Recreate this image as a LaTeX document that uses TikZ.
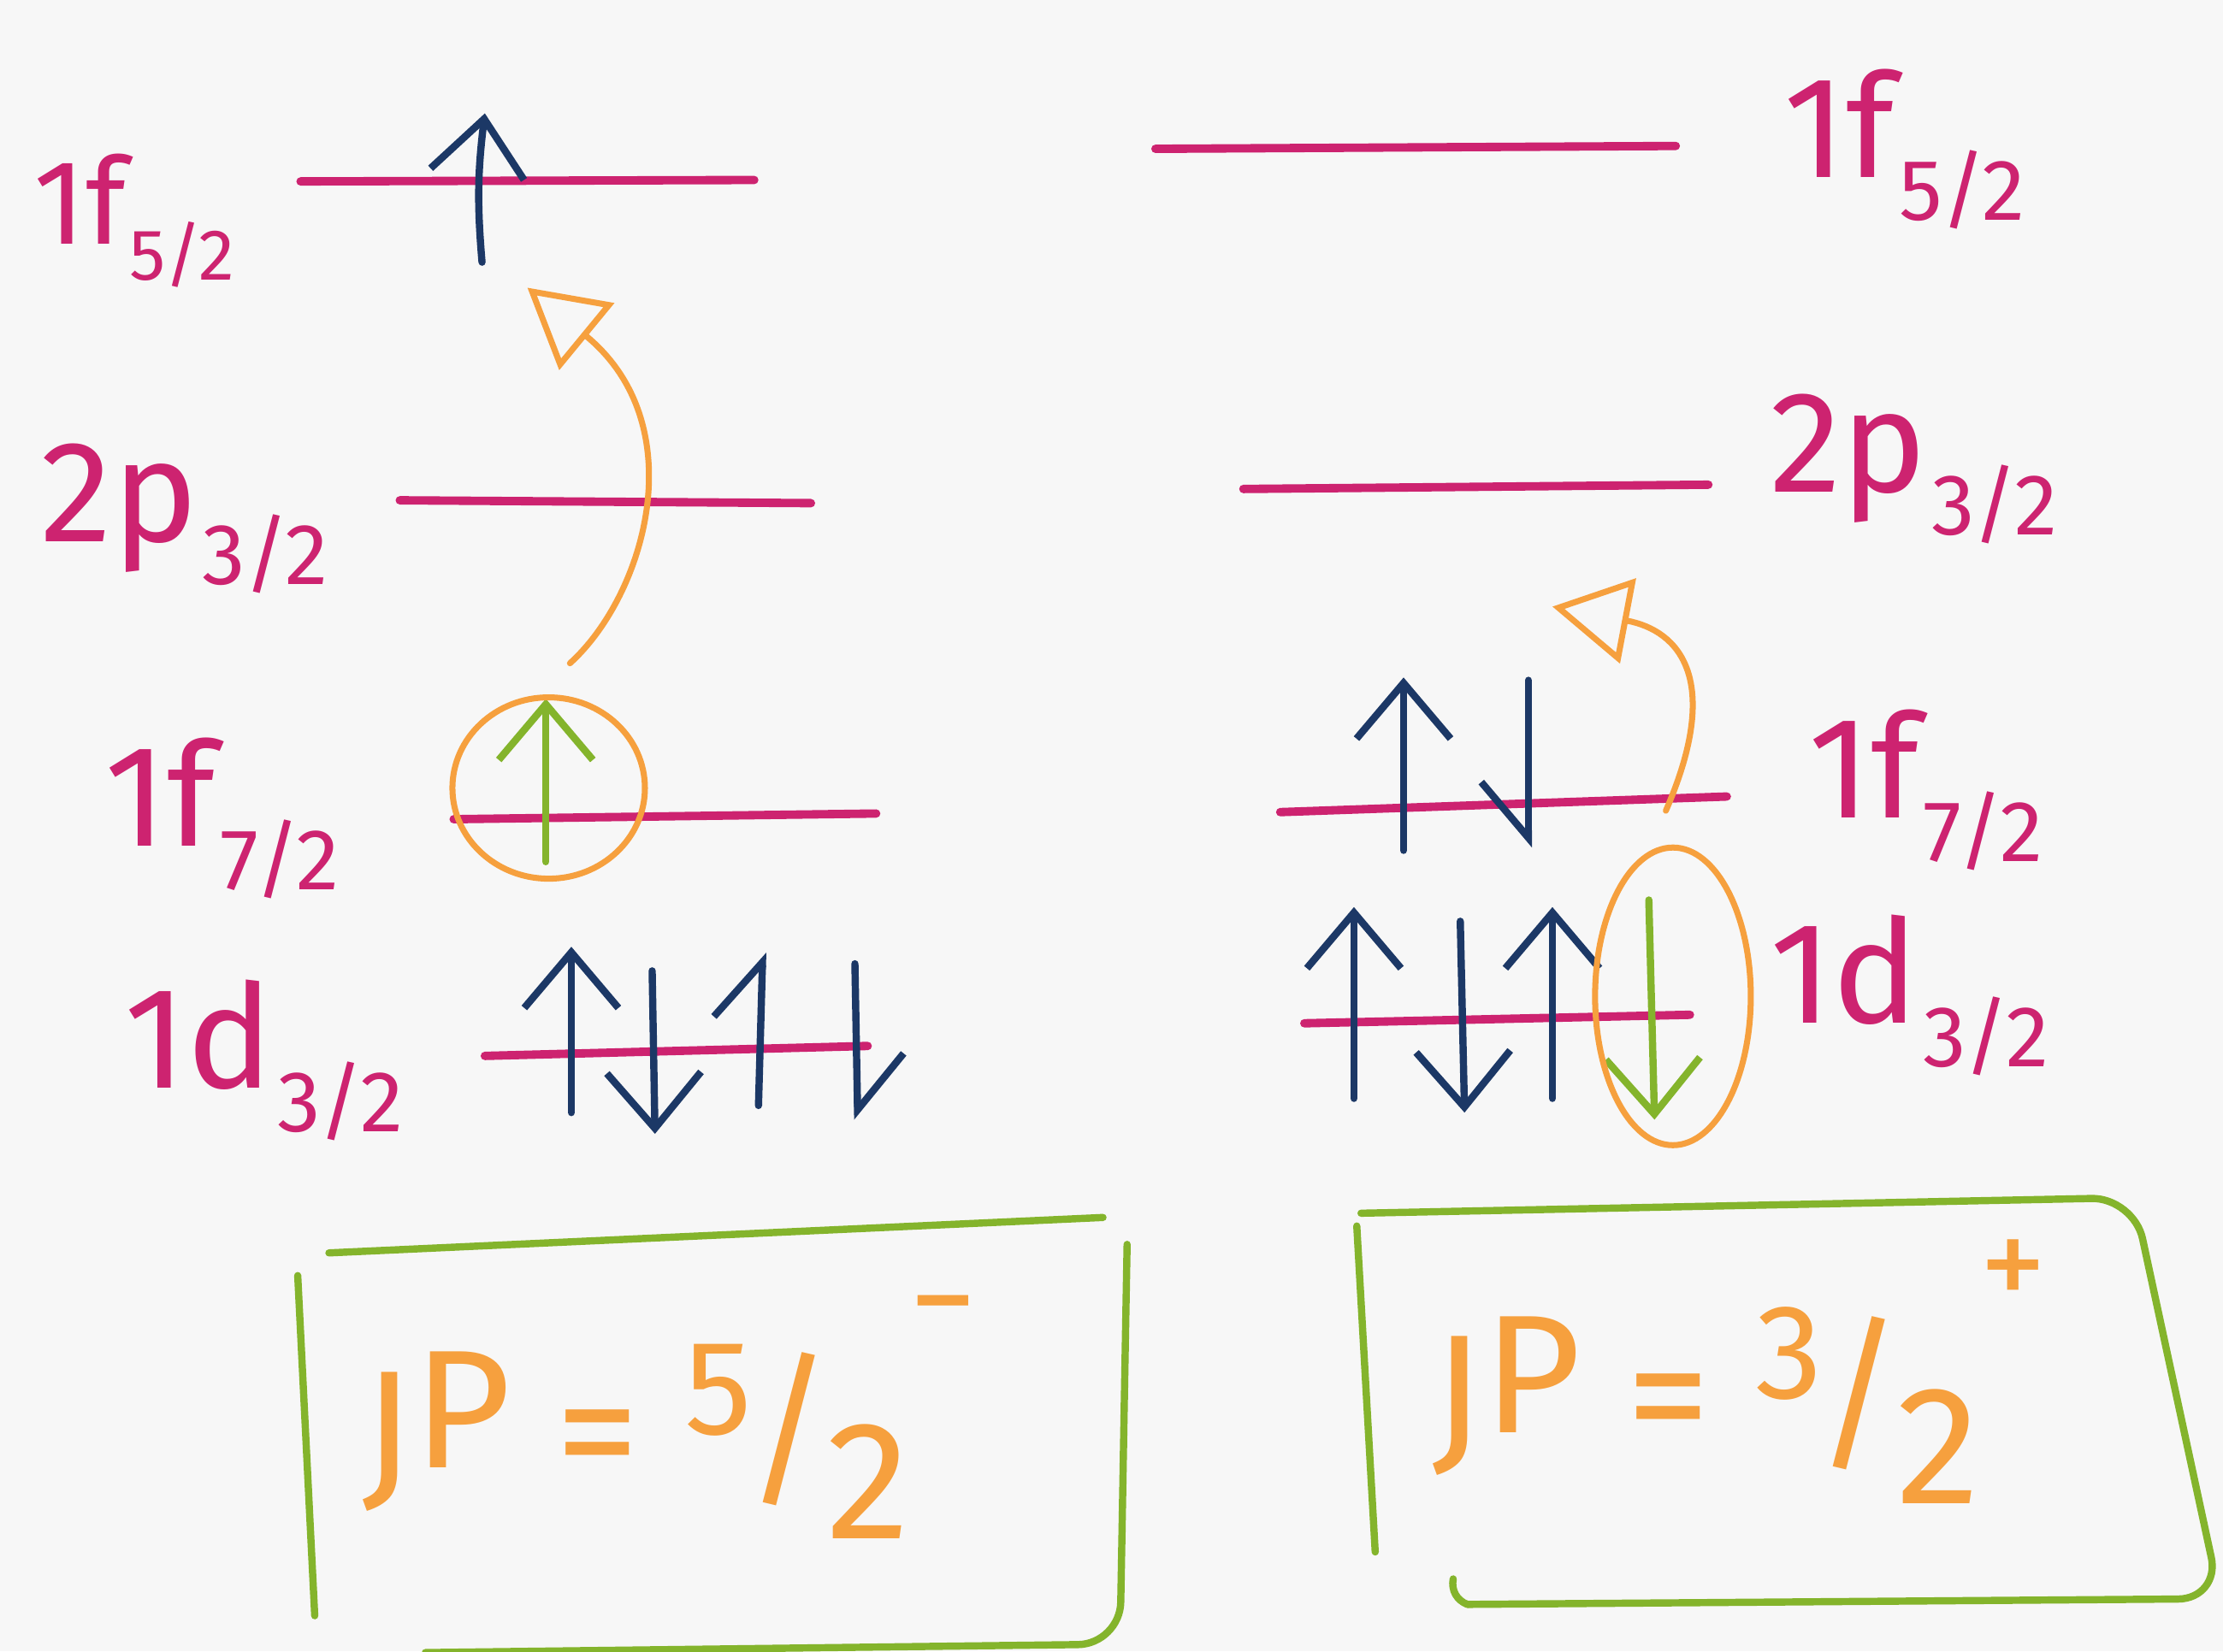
\documentclass[tikz,border=0pt]{standalone}
\usepackage{fontspec}
\setmainfont{Fira Sans}
\usepackage{graphicx}
\usetikzlibrary{shapes.geometric, arrows.meta, positioning, calc}

\definecolor{levelpink}{RGB}{205,35,112}
\definecolor{spinblue}{RGB}{28,56,102}
\definecolor{holeorange}{RGB}{246,160,62}
\definecolor{oddgreen}{RGB}{132,180,44}

\newcommand{\orb}[2]{#1\kern0.03em\raisebox{-0.3em}{\scalebox{0.6}{#2}}}
\newcommand{\slfrac}[2]{\raisebox{0.32em}{\scalebox{0.8}{#1}}\kern-0.04em/\kern-0.04em\raisebox{-0.3em}{#2}}

\begin{document}
\begin{tikzpicture}[
  x=0.016576cm, y=-0.016576cm,
  level/.style={levelpink, line width=2.8pt, line cap=round},
  orblabel/.style={text=levelpink, font=\fontsize{48}{54}\selectfont, inner sep=0pt},
  spin/.style={spinblue, line width=2.4pt, line cap=round, -{Straight Barb[length=6.5mm, width=11mm]}},
  spinL/.style={spin, -{Straight Barb[left, length=6.5mm, width=11mm]}},
  spinR/.style={spin, -{Straight Barb[right, length=6.5mm, width=11mm]}},
  odd/.style={spin, oddgreen},
  ring/.style={draw=holeorange, line width=2pt, ellipse, inner sep=0pt},
  jump/.style={holeorange, line width=2pt, line cap=round, -{Triangle[open, length=9mm, width=10mm, line width=2pt]}},
  frame/.style={oddgreen, line width=2.4pt, line cap=round, rounded corners=14pt},
  jp/.style={text=holeorange, font=\fontsize{56}{62}\selectfont, inner sep=0pt},
]
\fill[white!97!black] (0,0) rectangle (1568,1165);
\useasboundingbox (0,0) rectangle (1568,1165);

% left: ground state
\foreach \n/\xa/\ya/\xb/\yb in {lf5/212/128/532/127, lp3/282/353/572/355, lf7/320/578/618/574, ld3/342/745/612/738}{
  \coordinate (\n-a) at (\xa,\ya);
  \coordinate (\n-b) at (\xb,\yb);
  \draw[level] (\n-a) -- (\n-b);
}
\node[orblabel, anchor=base east, font=\fontsize{40}{44}\selectfont] (tlf5) at (166,172) {\orb{1f}{5/2}};
\node[orblabel, anchor=base east] (tlp3) at (232,382) {\orb{2p}{3/2}};
\node[orblabel, anchor=base east] (tlf7) at (240,597) {\orb{1f}{7/2}};
\node[orblabel, anchor=base east] (tld3) at (285,768) {\orb{1d}{3/2}};

% right: excited state
\foreach \n/\xa/\ya/\xb/\yb in {rf5/815/105/1182/103, rp3/877/345/1205/342, rf7/903/573/1218/562, rd3/920/722/1192/716}{
  \coordinate (\n-a) at (\xa,\ya);
  \coordinate (\n-b) at (\xb,\yb);
  \draw[level] (\n-a) -- (\n-b);
}
\node[orblabel, anchor=base west] (trf5) at (1258,125) {\orb{1f}{5/2}};
\node[orblabel, anchor=base west] (trp3) at (1248,347) {\orb{2p}{3/2}};
\node[orblabel, anchor=base west] (trf7) at (1275,577) {\orb{1f}{7/2}};
\node[orblabel, anchor=base west] (trd3) at (1248,722) {\orb{1d}{3/2}};

% nucleons
\draw[spin] (340,185) to[bend left=6] (342,80);
\draw[spin] (403,785) -- (403,668);
\draw[spin] (460,685) -- (462,800);
\draw[spinL] (535,780) -- (538,672);
\draw[spinL] (603,680) -- (605,790);
\draw[odd] (385,608) -- (385,493);
\draw[spin] (990,600) -- (990,478);
\draw[spinR] (1078,480) -- (1078,598);
\draw[spin] (955,775) -- (955,640);
\draw[spin] (1030,650) -- (1033,785);
\draw[spin] (1095,775) -- (1095,640);
\draw[odd] (1163,635) -- (1167,790);

% holes and jumps
\node[ring, minimum width=2.25cm, minimum height=2.12cm] (hole1) at (387,556) {};
\node[ring, minimum width=1.82cm, minimum height=3.48cm] (hole2) at (1180,703) {};
\coordinate (tail1) at (402,468);
\coordinate (tip1) at (372,203);
\draw[jump] (tail1) .. controls (455,420) and (490,300) .. (tip1);
\coordinate (tail2) at (1175,572);
\coordinate (tip2) at (1095,428);
\draw[jump] (tail2) .. controls (1215,480) and (1185,445) .. (tip2);

% results
\draw[frame] (232,884) -- (778,859);
\draw[frame] (210,900) -- (222,1140);
\draw[frame] (795,878) -- (790,1160) -- (300,1166);
\node[jp, anchor=base west] (jp1) at (255,1050) {J\raisebox{0.12em}{P} = \slfrac{5}{2}\raisebox{0.85em}{\scalebox{0.8}{−}}};

\draw[frame] (960,856) -- (1505,845) -- (1566,1128) -- (1035,1132);
\draw[oddgreen, line width=2.4pt, line cap=round] (1035,1132) to[bend left=40] (1025,1114);
\draw[frame] (957,865) -- (970,1095);
\node[jp, anchor=base west] (jp2) at (1010,1025) {J\raisebox{0.12em}{P} = \slfrac{3}{2}\raisebox{0.85em}{\scalebox{0.8}{+}}};
\end{tikzpicture}
\end{document}
